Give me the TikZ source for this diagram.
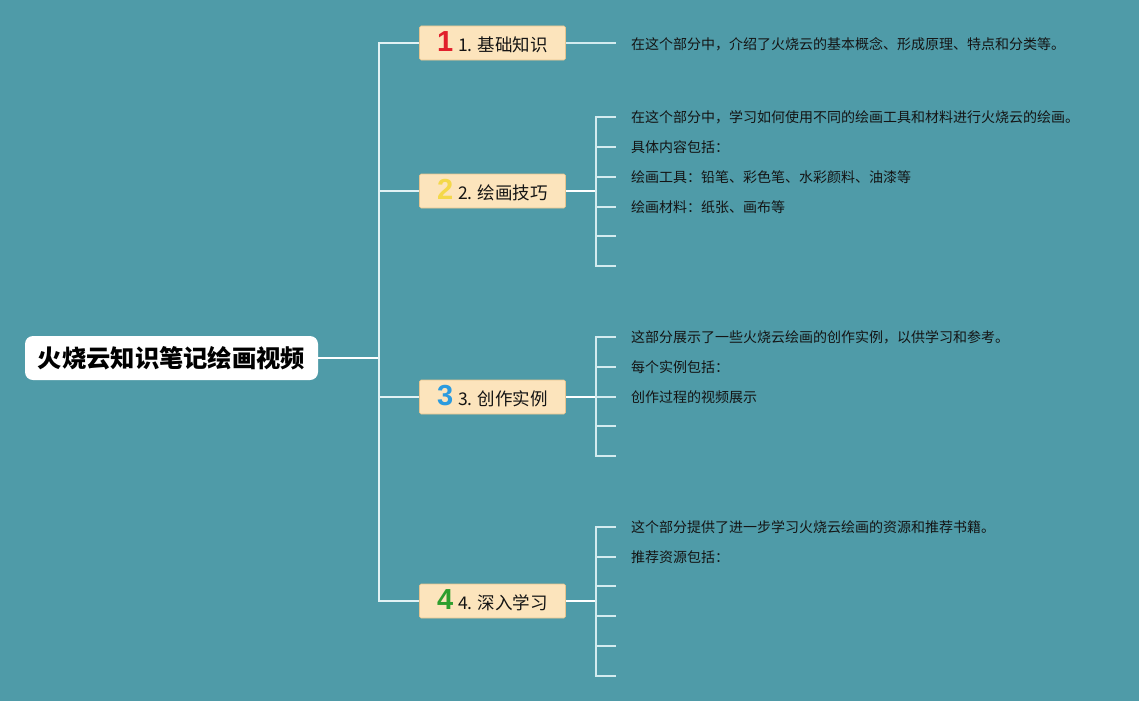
\documentclass[tikz,border=0pt]{standalone}
\usepackage{fontspec}
\setmainfont{Noto Sans CJK SC}
\newfontfamily\digitfont{Liberation Sans}
\definecolor{bg}{HTML}{4F9BA8}
\definecolor{secfill}{HTML}{FCE4BC}
\definecolor{secdraw}{HTML}{E6C48E}
\definecolor{twigc}{HTML}{D3EBEF}
\definecolor{trunkc}{HTML}{E2F2F4}
\definecolor{leaftext}{HTML}{141414}
\definecolor{dred}{HTML}{E1202C}
\definecolor{dyellow}{HTML}{F4D84A}
\definecolor{dblue}{HTML}{2B9BDF}
\definecolor{dgreen}{HTML}{2E9E2E}
\newcommand{\bignum}[2]{{\digitfont\bfseries\fontsize{29}{29}\selectfont\color{#1}#2}\hspace{5pt}}
\begin{document}
\begin{tikzpicture}[x=1pt,y=-1pt,
  root/.style={fill=white, rounded corners=8pt, minimum width=293pt, minimum height=44pt, inner sep=0pt, text=black, font=\bfseries\fontsize{24.3}{30}\selectfont},
  sect/.style={fill=secfill, draw=secdraw, line width=0.6pt, rounded corners=1.5pt, minimum width=146pt, minimum height=34pt, inner sep=0pt, text height=21pt, text depth=4pt, text=leaftext, font=\fontsize{17.5}{20}\selectfont},
  leaf/.style={anchor=west, inner sep=0pt, text=leaftext, font=\fontsize{14}{16}\selectfont},
  trunk/.style={draw=trunkc, line width=1.4pt},
  bright/.style={draw=white, line width=1.6pt},
  twig/.style={draw=twigc, line width=1.4pt},
]
\useasboundingbox (0,0) rectangle (1139,701);
\fill[bg] (0,0) rectangle (1139,701);

% root
\node[root] (R) at (171.5,358) {火烧云知识笔记绘画视频};
\coordinate (J) at (379,358);
\draw[bright] (R.east) -- (J);

% sections
\node[sect] (S1) at (492.5,43) {\bignum{dred}{1}1. 基础知识};
\node[sect] (S2) at (492.5,191) {\bignum{dyellow}{2}2. 绘画技巧};
\node[sect] (S3) at (492.5,397) {\bignum{dblue}{3}3. 创作实例};
\node[sect] (S4) at (492.5,601) {\bignum{dgreen}{4}4. 深入学习};

\draw[trunk] (S1.west) -| (J) |- (S4.west);
\draw[trunk] (S2.west) -- (S2.west -| J);
\draw[trunk] (S3.west) -- (S3.west -| J);

% section 1
\node[leaf] (L11) at (631,44) {在这个部分中，介绍了火烧云的基本概念、形成原理、特点和分类等。};
\coordinate (E11) at (616,43);
\draw[twig] (S1.east) -- (E11);

% section 2
\coordinate (B2) at (596,191);
\draw[bright] (S2.east) -- (B2);
\node[leaf] (L21) at (631,117) {在这个部分中，学习如何使用不同的绘画工具和材料进行火烧云的绘画。};
\node[leaf] (L22) at (631,147) {具体内容包括：};
\node[leaf] (L23) at (631,177) {绘画工具：铅笔、彩色笔、水彩颜料、油漆等};
\node[leaf] (L24) at (631,207) {绘画材料：纸张、画布等};
\coordinate (E25) at (616,236);
\coordinate (E26) at (616,266);
\draw[twig] ([xshift=-15pt]L21.west) -| (B2 |- E26) -- (E26);
\foreach \n in {L22,L23,L24} \draw[twig] (\n.west -| B2) -- ([xshift=-15pt]\n.west);
\draw[twig] (E25 -| B2) -- (E25);

% section 3
\coordinate (B3) at (596,397);
\draw[bright] (S3.east) -- (B3);
\node[leaf] (L31) at (631,337) {这部分展示了一些火烧云绘画的创作实例，以供学习和参考。};
\node[leaf] (L32) at (631,367) {每个实例包括：};
\node[leaf] (L33) at (631,397) {创作过程的视频展示};
\coordinate (E34) at (616,426);
\coordinate (E35) at (616,456);
\draw[twig] ([xshift=-15pt]L31.west) -| (B3 |- E35) -- (E35);
\foreach \n in {L32,L33} \draw[twig] (\n.west -| B3) -- ([xshift=-15pt]\n.west);
\draw[twig] (E34 -| B3) -- (E34);

% section 4
\coordinate (B4) at (596,601);
\draw[bright] (S4.east) -- (B4);
\node[leaf] (L41) at (631,527) {这个部分提供了进一步学习火烧云绘画的资源和推荐书籍。};
\node[leaf] (L42) at (631,557) {推荐资源包括：};
\coordinate (E43) at (616,586);
\coordinate (E44) at (616,616);
\coordinate (E45) at (616,646);
\coordinate (E46) at (616,676);
\draw[twig] ([xshift=-15pt]L41.west) -| (B4 |- E46) -- (E46);
\draw[twig] (L42.west -| B4) -- ([xshift=-15pt]L42.west);
\foreach \e in {E43,E44,E45} \draw[twig] (\e -| B4) -- (\e);
\end{tikzpicture}
\end{document}
